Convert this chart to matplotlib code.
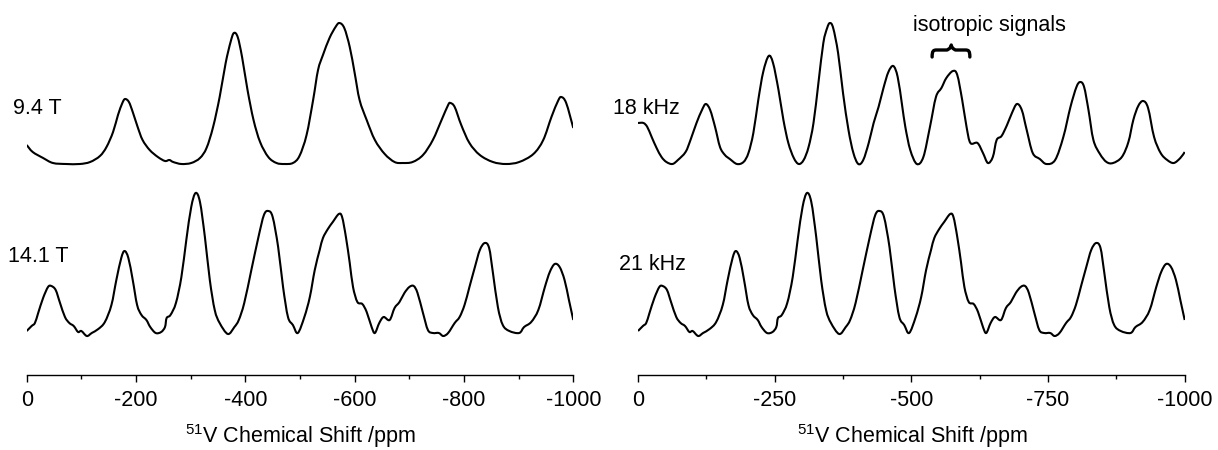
import matplotlib
matplotlib.use("Agg")
import matplotlib.pyplot as plt
from matplotlib.path import Path
from matplotlib.patches import PathPatch
from matplotlib.ticker import MultipleLocator

plt.rcParams['font.family'] = ['Liberation Sans', 'DejaVu Sans']
plt.rcParams['mathtext.fontset'] = 'custom'
plt.rcParams['mathtext.rm'] = 'Liberation Sans'

# ---------------- data (ppm, intensity in arbitrary units) ----------------
ppm_94T = [0, -11, -30, -48, -72, -97, -116, -134, -146, -158, -167, -175, -180, -187,
           -194, -203, -212, -225, -240, -253, -261, -268, -283, -301, -317, -329, -341,
           -353, -364, -373, -379, -386, -394, -404, -415, -427, -442, -457, -472, -487,
           -499, -512, -524, -533, -542, -554, -565, -572, -581, -591, -600, -609, -622,
           -637, -655, -673, -688, -706, -725, -743, -759, -771, -775, -783, -795, -810,
           -829, -853, -877, -901, -927, -945, -960, -972, -978, -987, -1000]
int_94T = [20, 13, 7, 2, 1, 1, 3, 9, 18, 33, 50, 62, 66, 63,
           53, 38, 25, 15, 8, 4, 5, 3, 1, 2, 7, 17, 38,
           68, 102, 123, 132, 128, 108, 75, 45, 23, 8, 2, 1, 2,
           9, 30, 65, 95, 110, 127, 138, 142, 137, 118, 92, 65, 45,
           25, 11, 3, 2, 3, 10, 25, 45, 60, 62, 58, 40, 22,
           10, 3, 1, 3, 11, 25, 48, 64, 68, 62, 37]

ppm_141T = [0, -9, -15, -21, -30, -39, -45, -53, -61, -70, -78, -86, -94, -100, -110,
            -119, -131, -143, -155, -164, -173, -179, -186, -194, -202, -210, -219, -226,
            -236, -246, -253, -256, -263, -273, -283, -292, -301, -309, -317, -326, -335,
            -344, -353, -368, -380, -388, -398, -411, -424, -434, -442, -450, -460, -469,
            -478, -487, -496, -508, -518, -527, -536, -542, -551, -560, -571, -577, -584,
            -591, -597, -605, -614, -622, -631, -637, -645, -653, -664, -673, -682, -691,
            -700, -708, -715, -725, -734, -743, -754, -762, -771, -783, -792, -801, -810,
            -820, -829, -838, -846, -853, -862, -871, -883, -901, -910, -923, -936, -948,
            -957, -966, -975, -984, -992, -1000]
int_141T = [6, 11, 14, 24, 39, 50, 51, 47, 34, 20, 14, 11, 5, 6, 1,
            4, 8, 15, 32, 57, 79, 86, 79, 57, 32, 22, 17, 10,
            4, 5, 10, 19, 22, 34, 60, 97, 130, 144, 135, 100, 57,
            27, 14, 3, 10, 17, 34, 67, 100, 122, 126, 120, 90, 50,
            20, 12, 4, 20, 40, 67, 87, 99, 108, 115, 123, 120, 100,
            74, 50, 35, 33, 25, 10, 4, 14, 20, 17, 29, 35, 44,
            50, 51, 44, 24, 7, 4, 4, 1, 4, 14, 20, 32, 50,
            70, 87, 94, 89, 64, 30, 12, 6, 4, 10, 15, 27, 50,
            65, 73, 70, 57, 37, 17]

ppm_18k = [0, -10, -17, -25, -34, -43, -52, -63, -73, -87, -96, -107, -117, -124, -132,
           -141, -150, -159, -168, -181, -193, -202, -211, -220, -229, -239, -247, -257,
           -266, -275, -285, -294, -303, -312, -321, -330, -339, -346, -351, -357, -366,
           -375, -385, -394, -403, -412, -422, -431, -440, -449, -458, -467, -475, -483,
           -489, -498, -510, -522, -534, -545, -555, -564, -576, -584, -593, -601, -608,
           -621, -631, -640, -649, -656, -665, -675, -684, -693, -702, -711, -722, -735,
           -747, -763, -778, -791, -802, -809, -816, -824, -833, -845, -857, -869, -885,
           -897, -906, -915, -924, -933, -944, -956, -968, -980, -992, -1000]
int_18k = [42, 42, 38, 28, 17, 8, 3, 1, 5, 13, 25, 42, 55, 61, 55,
           38, 18, 10, 6, 1, 3, 12, 32, 65, 93, 109, 102, 75,
           45, 22, 7, 1, 5, 18, 42, 82, 122, 137, 142, 137, 112,
           72, 35, 12, 1, 5, 22, 42, 58, 77, 93, 99, 88, 60,
           38, 15, 1, 8, 38, 68, 77, 87, 94, 90, 65, 38, 22,
           22, 12, 2, 8, 25, 29, 40, 52, 61, 55, 35, 12, 6,
           1, 5, 28, 58, 78, 83, 78, 55, 25, 11, 3, 2, 8,
           23, 45, 59, 64, 57, 28, 12, 5, 2, 7, 13]

x_ticks_left = [0, -200, -400, -600, -800, -1000]
x_ticks_right = [0, -250, -500, -750, -1000]
labels_left = ["9.4 T", "14.1 T"]
labels_right = ["18 kHz", "21 kHz"]
annotation = "isotropic signals"
xlabel = r"$\mathregular{^{51}}$V Chemical Shift /ppm"

# ---------------- layout ----------------
W, H = 1218, 450
fig = plt.figure(figsize=(W / 100, H / 100), dpi=100)
top_off, bot_off = 210, 38
lw = 1.5


def make_axes(x0px, x1px, minor):
    ax = fig.add_axes([x0px / W, 75 / H, (x1px - x0px) / W, 375 / H])
    ax.set_xlim(0, -1000)
    ax.set_ylim(0, 375)
    for s in ("top", "left", "right"):
        ax.spines[s].set_visible(False)
    ax.spines["bottom"].set_linewidth(1.0)
    ax.set_yticks([])
    ax.xaxis.set_minor_locator(MultipleLocator(minor))
    ax.tick_params(axis="x", which="major", direction="out", length=5, width=1.0,
                   labelsize=15.5, pad=5.5, colors="black")
    ax.tick_params(axis="x", which="minor", direction="out", length=3, width=1.0)
    ax.patch.set_visible(False)
    return ax


def smooth_line(ax, xs, ys, offset):
    """Draw a smooth curve (Catmull-Rom rendered as cubic Bezier) through the data points."""
    pts = [(x, y + offset) for x, y in zip(xs, ys)]
    n = len(pts)
    verts = [pts[0]]
    codes = [Path.MOVETO]
    for i in range(n - 1):
        p0 = pts[i - 1] if i > 0 else pts[i]
        p1 = pts[i]
        p2 = pts[i + 1]
        p3 = pts[i + 2] if i + 2 < n else pts[i + 1]
        c1 = (p1[0] + (p2[0] - p0[0]) / 6, p1[1] + (p2[1] - p0[1]) / 6)
        c2 = (p2[0] - (p3[0] - p1[0]) / 6, p2[1] - (p3[1] - p1[1]) / 6)
        verts += [c1, c2, p2]
        codes += [Path.CURVE4] * 3
    ax.add_patch(PathPatch(Path(verts, codes), fill=False, lw=lw, edgecolor="black",
                           joinstyle="round", capstyle="butt"))


axL = make_axes(26.7, 573.3, 100)
axR = make_axes(638, 1184.7, 125)

axL.set_xticks(x_ticks_left)
axL.set_xticklabels([str(t) for t in x_ticks_left])
axR.set_xticks(x_ticks_right)
axR.set_xticklabels([str(t) for t in x_ticks_right])

smooth_line(axL, ppm_94T, int_94T, top_off)
smooth_line(axL, ppm_141T, int_141T, bot_off)
smooth_line(axR, ppm_18k, int_18k, top_off)
smooth_line(axR, ppm_141T, int_141T, bot_off)


def ftext(xpx, ypx, s, **kw):
    fig.text(xpx / W, 1 - ypx / H, s, fontsize=15.5, color="black", **kw)


ftext(12.7, 108, labels_left[0], ha="left", va="center")
ftext(8.3, 256, labels_left[1], ha="left", va="center")
ftext(613, 108, labels_right[0], ha="left", va="center")
ftext(619, 265, labels_right[1], ha="left", va="center")
ftext(989.5, 31, annotation, ha="center", va="baseline")
ftext(300, 436, xlabel, ha="center", va="center")
ftext(912, 436, xlabel, ha="center", va="center")

# curly brace over the isotropic signals
bl, br, bt = -538, -607, -573
yb, ybar, ytip = 318, 325, 330
d = 4
verts = [(bl, yb), (bl, ybar - 1), (bl - 2, ybar), (bl - 2 * d, ybar),
         (bt + 2 * d, ybar), (bt + 2 * d, ybar), (bt + 1, ybar + 1), (bt, ytip),
         (bt - 1, ybar + 1), (bt - 2 * d, ybar), (bt - 2 * d, ybar),
         (br + 2 * d, ybar), (br + 2, ybar), (br, ybar - 1), (br, yb)]
codes = [Path.MOVETO, Path.CURVE4, Path.CURVE4, Path.CURVE4,
         Path.LINETO, Path.CURVE4, Path.CURVE4, Path.CURVE4,
         Path.CURVE4, Path.CURVE4, Path.CURVE4,
         Path.LINETO, Path.CURVE4, Path.CURVE4, Path.CURVE4]
axR.add_patch(PathPatch(Path(verts, codes), fill=False, lw=2.4, edgecolor="black",
                        clip_on=False, capstyle="round", joinstyle="round"))

fig.savefig("out.png", dpi=100)
